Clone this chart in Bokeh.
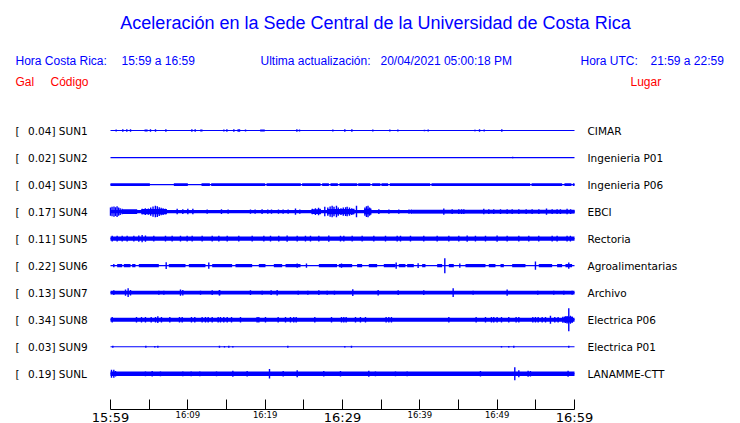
from bokeh.plotting import figure
from bokeh.models import ColumnDataSource, Range1d, LinearAxis, FixedTicker
from bokeh.core.properties import value
from bokeh.embed import file_html
from bokeh.resources import INLINE

# ---------------- data ----------------
TITLE = "Aceleración en la Sede Central de la Universidad de Costa Rica"
codes = ["SUN1", "SUN2", "SUN3", "SUN4", "SUN5", "SUN6", "SUN7", "SUN8", "SUN9", "SUNL"]
places = ["CIMAR", "Ingenieria P01", "Ingenieria P06", "EBCI", "Rectoria",
          "Agroalimentarias", "Archivo", "Electrica P06", "Electrica P01", "LANAMME-CTT"]
peaks_gal = [0.04, 0.02, 0.04, 0.17, 0.11, 0.22, 0.13, 0.34, 0.03, 0.19]

tick_minutes = [0, 5, 10, 15, 20, 25, 30, 35, 40, 45, 50, 55, 60]
small_tick_labels = {10: "16:09", 20: "16:19", 40: "16:39", 50: "16:49"}
big_tick_minutes = [0, 30, 60]
big_tick_labels = {0: "15:59", 30: "16:29", 60: "16:59"}

# envelope segments (start min, end min, half amplitude gal) and spikes (min, amplitude gal)
sun1_bands = [(4.4, 4.8, 0.03), (11.6, 11.9, 0.03), (19.35, 19.95, 0.03), (40.5, 40.7, 0.025), (47.0, 47.25, 0.025)]
sun1_spikes = [(0.73, 0.03), (1.59, 0.04), (2.11, 0.04), (2.59, 0.04), (5.17, 0.04), (5.82, 0.04), (7.16, 0.04),
               (10.52, 0.04), (10.95, 0.04), (14.66, 0.03), (15.05, 0.04), (15.95, 0.04), (16.51, 0.04),
               (16.68, 0.04), (17.46, 0.03), (24.1, 0.04), (24.44, 0.03), (28.75, 0.03), (30.3, 0.04),
               (31.21, 0.04), (33.92, 0.03), (36.12, 0.03), (37.16, 0.03), (41.08, 0.03), (47.72, 0.04),
               (48.32, 0.03), (50.6, 0.04)]
sun2_bands = []
sun2_spikes = [(52.0, 0.02)]
sun3_bands = [(0, 5.09, 0.04), (8.19, 10.0, 0.04), (11.77, 12.85, 0.04), (13.02, 20.0, 0.04), (20.18, 24.61, 0.04),
              (24.78, 27.16, 0.04), (27.37, 28.24, 0.04), (28.45, 29.4, 0.04), (29.61, 31.9, 0.04),
              (32.03, 33.6, 0.04), (33.84, 34.9, 0.04), (35.04, 35.9, 0.04), (36.12, 41.34, 0.04),
              (41.51, 54.27, 0.04), (54.45, 58.4, 0.04), (58.7, 59.6, 0.04), (59.79, 60, 0.04)]
sun3_spikes = []
sun4_bands = [(0, 60, 0.05), (1.5, 3.45, 0.07), (4.0, 7.3, 0.075), (26.0, 27.2, 0.07), (28.0, 31.5, 0.075),
              (32.8, 33.7, 0.08), (39.0, 60, 0.055)]
sun4_spikes = [(0.0, 0.12), (0.2, 0.14), (0.45, 0.15), (0.65, 0.13), (0.85, 0.16), (1.05, 0.12), (1.25, 0.1),
               (1.5, 0.08), (4.1, 0.08), (4.5, 0.1), (4.9, 0.09), (5.2, 0.12), (5.5, 0.15), (5.8, 0.17),
               (6.05, 0.16), (6.3, 0.13), (6.55, 0.11), (6.8, 0.1), (7.1, 0.08), (8.62, 0.08), (9.35, 0.07),
               (10.0, 0.08), (10.65, 0.08), (12.5, 0.06), (14.35, 0.07), (15.21, 0.06), (18.1, 0.06),
               (18.7, 0.06), (19.6, 0.07), (20.34, 0.06), (20.82, 0.06), (21.72, 0.06), (22.32, 0.06),
               (22.97, 0.06), (23.92, 0.09), (24.48, 0.06), (26.1, 0.08), (26.5, 0.1), (26.9, 0.11),
               (27.1, 0.08), (27.71, 0.14), (28.1, 0.12), (28.4, 0.15), (28.66, 0.17), (28.9, 0.14),
               (29.22, 0.17), (29.45, 0.12), (29.8, 0.1), (30.1, 0.12), (30.4, 0.13), (30.6, 0.14),
               (30.9, 0.12), (31.2, 0.1), (31.46, 0.08), (31.81, 0.17), (32.9, 0.12), (33.1, 0.16),
               (33.3, 0.17), (33.5, 0.12), (33.65, 0.09), (34.7, 0.07), (36.0, 0.06), (37.28, 0.06),
               (38.6, 0.06), (38.9, 0.06), (43.1, 0.09), (44.18, 0.07), (45.04, 0.07), (45.4, 0.07),
               (45.69, 0.07), (48.27, 0.08), (48.92, 0.07), (49.56, 0.07), (50.43, 0.07), (51.29, 0.07),
               (51.94, 0.07), (52.8, 0.07), (53.75, 0.07), (54.52, 0.07), (55.39, 0.07), (56.38, 0.09),
               (57.11, 0.07), (57.75, 0.07), (58.18, 0.07), (59.04, 0.08), (59.5, 0.07)]
sun5_bands = [(0, 60, 0.065)]
sun5_spikes = [(0.22, 0.085), (0.86, 0.085), (1.51, 0.085), (2.15, 0.085), (3.02, 0.085), (3.66, 0.09),
               (4.09, 0.11), (4.52, 0.09), (5.6, 0.085), (7.11, 0.085), (7.97, 0.085), (9.05, 0.085),
               (9.91, 0.085), (10.56, 0.085), (11.85, 0.085), (13.15, 0.085), (14.01, 0.085), (15.09, 0.085),
               (16.59, 0.085), (18.32, 0.085), (19.83, 0.085), (20.69, 0.085), (21.76, 0.085), (22.84, 0.09),
               (24.14, 0.085), (25.21, 0.085), (25.86, 0.085), (26.94, 0.085), (28.23, 0.09), (29.74, 0.085),
               (30.17, 0.085), (31.25, 0.085), (32.54, 0.085), (34.05, 0.085), (35.56, 0.085), (37.07, 0.085),
               (37.5, 0.085), (38.79, 0.085), (40.51, 0.085), (42.24, 0.085), (43.75, 0.085), (45.04, 0.085),
               (46.12, 0.09), (47.19, 0.085), (48.49, 0.085), (49.99, 0.09), (51.29, 0.085), (52.8, 0.085),
               (54.09, 0.085), (55.38, 0.085), (57.11, 0.085), (57.75, 0.085), (59.04, 0.085), (59.47, 0.085)]
sun6_bands = [(0.86, 1.51, 0.045), (1.72, 2.59, 0.045), (2.8, 3.23, 0.045), (3.66, 6.25, 0.045), (7.54, 9.7, 0.045),
              (10.13, 12.28, 0.045), (13.15, 15.73, 0.045), (16.16, 18.32, 0.045), (19.18, 20.04, 0.045),
              (21.12, 22.2, 0.045), (22.63, 24.57, 0.045), (26.94, 29.3, 0.045), (29.52, 31.25, 0.045),
              (31.89, 32.54, 0.045), (33.4, 34.48, 0.045), (35.34, 36.85, 0.045), (37.28, 38.14, 0.045),
              (38.36, 39.22, 0.045), (40.3, 40.73, 0.045), (42.24, 42.89, 0.045), (43.75, 44.39, 0.045),
              (45.9, 48.49, 0.045), (48.92, 49.78, 0.045), (50.43, 50.86, 0.045), (51.94, 53.66, 0.045),
              (55.38, 57.11, 0.045), (57.75, 58.4, 0.045), (58.83, 59.69, 0.045)]
sun6_spikes = [(0.43, 0.05), (7.2, 0.1), (12.71, 0.09), (24.14, 0.06), (25.34, 0.06), (29.87, 0.06),
               (36.94, 0.09), (39.78, 0.07), (43.23, 0.22), (45.17, 0.06), (54.95, 0.12), (59.26, 0.09)]
sun7_bands = [(0, 60, 0.055), (14.0, 14.2, 0.075)]
sun7_spikes = [(0.43, 0.07), (1.94, 0.09), (2.28, 0.13), (2.59, 0.08), (6.25, 0.06), (6.9, 0.06), (9.05, 0.09),
               (9.35, 0.08), (11.64, 0.06), (13.15, 0.07), (14.09, 0.08), (18.1, 0.07), (19.61, 0.06),
               (20.77, 0.07), (21.55, 0.08), (24.27, 0.06), (25.52, 0.06), (26.94, 0.07), (28.02, 0.06),
               (28.96, 0.06), (31.33, 0.1), (34.61, 0.08), (37.2, 0.07), (40.51, 0.07), (44.31, 0.13),
               (46.89, 0.06), (51.29, 0.09), (55.25, 0.06), (57.32, 0.06), (58.62, 0.06), (59.69, 0.06)]
sun8_bands = [(0, 60, 0.06), (58.6, 59.8, 0.085)]
sun8_spikes = [(0.22, 0.08), (3.36, 0.08), (4.01, 0.08), (4.52, 0.08), (5.26, 0.08), (5.82, 0.08), (6.12, 0.1),
               (6.59, 0.08), (7.67, 0.08), (8.92, 0.08), (9.27, 0.08), (10.47, 0.08), (10.9, 0.08),
               (11.85, 0.08), (12.28, 0.08), (12.63, 0.08), (13.15, 0.08), (13.92, 0.08), (14.22, 0.08),
               (14.65, 0.08), (15.09, 0.08), (15.65, 0.08), (16.81, 0.08), (18.96, 0.08), (19.18, 0.08),
               (20.04, 0.08), (21.68, 0.08), (22.63, 0.08), (23.27, 0.08), (23.7, 0.08), (24.01, 0.08),
               (26.42, 0.08), (28.58, 0.08), (29.87, 0.08), (30.17, 0.08), (30.47, 0.08), (31.68, 0.08),
               (32.32, 0.08), (32.97, 0.08), (35.64, 0.08), (35.99, 0.08), (36.33, 0.08), (43.75, 0.08),
               (47.28, 0.08), (48.49, 0.08), (49.26, 0.08), (49.56, 0.08), (49.99, 0.08), (50.56, 0.08),
               (51.5, 0.08), (52.45, 0.08), (52.8, 0.08), (54.61, 0.08), (54.95, 0.08), (55.3, 0.08),
               (55.82, 0.08), (56.25, 0.08), (56.89, 0.12), (57.45, 0.08), (57.88, 0.08), (58.49, 0.09),
               (58.83, 0.1), (59.04, 0.11), (59.26, 0.34), (59.47, 0.12), (59.69, 0.09)]
sun9_bands = []
sun9_spikes = [(0.3, 0.03), (4.57, 0.03), (5.73, 0.02), (6.12, 0.03), (14.09, 0.03), (14.74, 0.02), (15.3, 0.03),
               (15.82, 0.02), (22.93, 0.03), (30.3, 0.02), (31.16, 0.03), (50.56, 0.02), (51.5, 0.02),
               (52.15, 0.03), (59.26, 0.03)]
sunl_bands = [(0, 60, 0.065)]
sunl_spikes = [(0.13, 0.12), (0.43, 0.12), (0.65, 0.08), (4.52, 0.07), (5.39, 0.08), (6.46, 0.07), (9.35, 0.07),
               (10.43, 0.07), (11.55, 0.07), (13.71, 0.07), (15.82, 0.09), (17.67, 0.08), (20.56, 0.14),
               (22.33, 0.08), (24.14, 0.1), (27.58, 0.08), (29.74, 0.08), (33.4, 0.09), (34.26, 0.07),
               (36.85, 0.07), (38.36, 0.07), (47.84, 0.08), (52.28, 0.19), (52.8, 0.1), (54.0, 0.09),
               (54.3, 0.08), (59.17, 0.09)]

all_bands = [sun1_bands, sun2_bands, sun3_bands, sun4_bands, sun5_bands,
             sun6_bands, sun7_bands, sun8_bands, sun9_bands, sunl_bands]
all_spikes = [sun1_spikes, sun2_spikes, sun3_spikes, sun4_spikes, sun5_spikes,
              sun6_spikes, sun7_spikes, sun8_spikes, sun9_spikes, sunl_spikes]

# ---------------- layout ----------------
BLUE = "#0000ff"
RED = "#ff0000"
PPM = 464 / 60.0          # pixels per minute
X0 = 110                  # page x of 15:59
ROW0, ROWSTEP = 130, 27.03
S = 34.0                  # pixels per gal
AXIS_Y = 409              # page y of the time axis line


def xm(px):
    return (px - X0) / PPM


p = figure(frame_width=740, frame_height=AXIS_Y, output_backend="svg", toolbar_location=None,
           x_axis_type=None, y_axis_type=None, min_border=0,
           x_range=Range1d(xm(0), xm(740)), y_range=Range1d(AXIS_Y, 0))
p.outline_line_color = None
p.background_fill_color = "white"
p.border_fill_color = "white"

# traces
for i, (bands, spikes) in enumerate(zip(all_bands, all_spikes)):
    base = ROW0 + i * ROWSTEP
    p.line([0, 60], [base, base], color=BLUE, line_width=1.2)
    if bands:
        src = ColumnDataSource(dict(
            l=[b[0] for b in bands], r=[b[1] for b in bands],
            t=[base - b[2] * S for b in bands], b=[base + b[2] * S for b in bands]))
        p.quad(left="l", right="r", top="t", bottom="b", source=src,
               fill_color=BLUE, line_color=None)
    if spikes:
        src = ColumnDataSource(dict(
            x=[s[0] for s in spikes],
            y0=[base - s[1] * S for s in spikes], y1=[base + s[1] * S for s in spikes]))
        p.segment(x0="x", y0="y0", x1="x", y1="y1", source=src, color=BLUE, line_width=1.4)

# texts
def add_text(items, size, color, font, align="left"):
    src = ColumnDataSource(dict(x=[xm(it[1]) for it in items], y=[it[2] for it in items],
                                text=[it[0] for it in items]))
    p.text(x="x", y="y", text="text", source=src, text_font=value(font), text_font_size=size,
           text_color=color, text_align=align, text_baseline="middle")

add_text([(TITLE, 375, 22)], "18px", BLUE, "Liberation Sans", "center")
add_text([("Hora Costa Rica:", 15, 60), ("15:59 a 16:59", 121, 60),
          ("Ultima actualización:", 260, 60), ("20/04/2021 05:00:18 PM", 380, 60),
          ("Hora UTC:", 580, 60), ("21:59 a 22:59", 650, 60)], "12px", BLUE, "Liberation Sans")
add_text([("Gal", 15, 81), ("Código", 50, 81), ("Lugar", 630, 81)], "12px", RED, "Liberation Sans")

rows_y = [ROW0 + i * ROWSTEP for i in range(len(codes))]
add_text([("[", 15, y) for y in rows_y], "10.5px", "black", "DejaVu Sans")
add_text([(f"{v:.2f}] {c}", 27.5, y) for v, c, y in zip(peaks_gal, codes, rows_y)], "10.5px", "black", "DejaVu Sans")
add_text([(pl, 587, y) for pl, y in zip(places, rows_y)], "10.5px", "black", "DejaVu Sans")

# time axis
ax1 = LinearAxis(ticker=FixedTicker(ticks=tick_minutes), bounds=(0, 60))
ax1.major_label_overrides = {t: small_tick_labels.get(t, "") for t in tick_minutes}
ax1.major_tick_in = 10
ax1.major_tick_out = 0
ax1.minor_tick_line_color = None
ax1.axis_line_color = "black"
ax1.major_tick_line_color = "black"
ax1.major_label_text_font = "DejaVu Sans"
ax1.major_label_text_font_size = "8.5px"
ax1.major_label_text_color = "black"
ax1.major_label_standoff = 0
p.add_layout(ax1, "below")

ax2 = LinearAxis(ticker=FixedTicker(ticks=big_tick_minutes), bounds=(0, 60))
ax2.major_label_overrides = big_tick_labels
ax2.axis_line_color = None
ax2.major_tick_line_color = None
ax2.minor_tick_line_color = None
ax2.major_tick_in = 0
ax2.major_tick_out = 0
ax2.major_label_text_font = "DejaVu Sans"
ax2.major_label_text_font_size = "13px"
ax2.major_label_text_color = "black"
ax2.major_label_standoff = -13
p.add_layout(ax2, "below")

open("out.html", "w").write(file_html(p, INLINE))
